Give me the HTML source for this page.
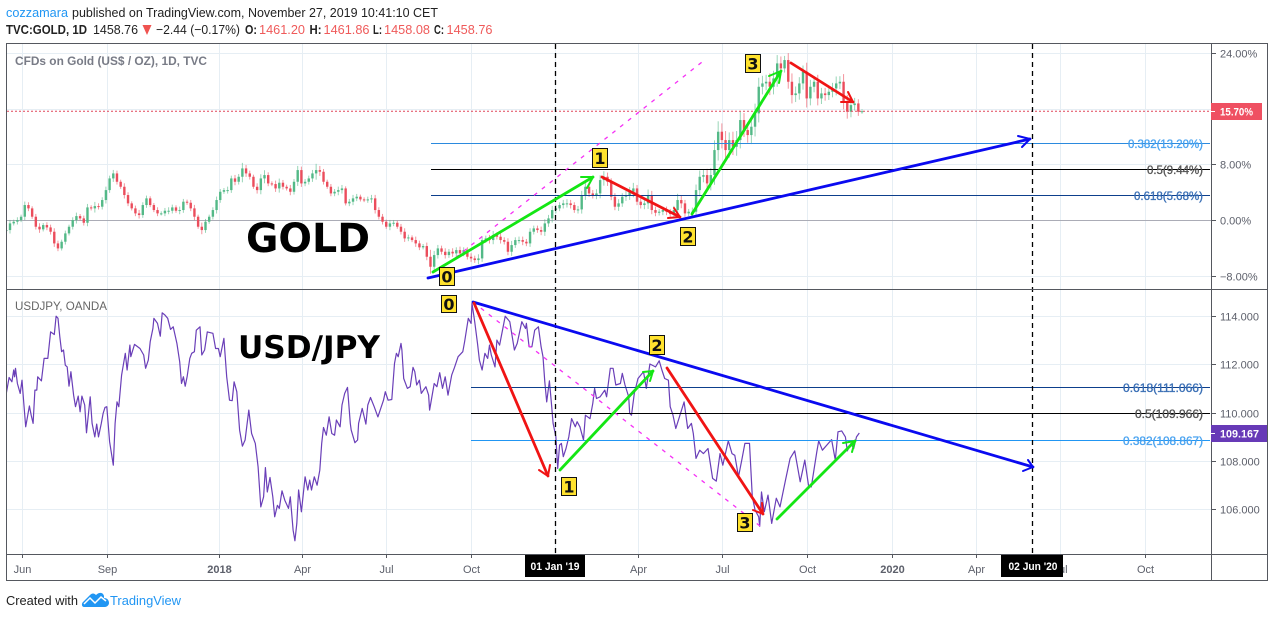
<!DOCTYPE html>
<html lang="en">
<head>
<meta charset="utf-8">
<title>GOLD vs USD/JPY</title>
<style>
html,body{margin:0;padding:0;background:#fff;width:1274px;height:618px;overflow:hidden}
svg{display:block;font-family:"Liberation Sans",sans-serif}
.ax{font-size:11px;fill:#5d606b}
.hd{font-size:13px;fill:#222}
.b{font-weight:bold}
.r{fill:#ef5a5a}
.lab{font-family:"DejaVu Sans",sans-serif;font-weight:bold;font-size:16px;fill:#111;text-anchor:middle}
.box{fill:#ffe22e;stroke:#111;stroke-width:1}
.fib{font-size:12px;text-anchor:end;stroke-width:.35}
</style>
</head>
<body>
<svg id="chart" width="1274" height="618" viewBox="0 0 1274 618" xmlns="http://www.w3.org/2000/svg">
  <defs>
    <clipPath id="clip-top"><rect x="7" y="44" width="1204" height="245"/></clipPath>
    <clipPath id="clip-bottom"><rect x="7" y="290" width="1204" height="264"/></clipPath>
  </defs>

  <g>
    <text class="hd" x="6" y="17" textLength="62" lengthAdjust="spacingAndGlyphs" style="fill:#2196f3">cozzamara</text>
    <text class="hd" x="72" y="17" textLength="366" lengthAdjust="spacingAndGlyphs">published on TradingView.com, November 27, 2019 10:41:10 CET</text>
    <text class="hd b" x="6" y="34" textLength="81" lengthAdjust="spacingAndGlyphs">TVC:GOLD, 1D</text>
    <text class="hd" x="93" y="34" textLength="45" lengthAdjust="spacingAndGlyphs">1458.76</text>
    <polygon points="142.500,25 151.500,25 147,35" fill="#ef5350"/>
    <text class="hd" x="156" y="34" textLength="84" lengthAdjust="spacingAndGlyphs">−2.44 (−0.17%)</text>
    <text class="hd b" x="245" y="34" textLength="12" lengthAdjust="spacingAndGlyphs">O:</text>
    <text class="hd r" x="259" y="34" textLength="46" lengthAdjust="spacingAndGlyphs">1461.20</text>
    <text class="hd b" x="309.500" y="34" textLength="12" lengthAdjust="spacingAndGlyphs">H:</text>
    <text class="hd r" x="323.500" y="34" textLength="46" lengthAdjust="spacingAndGlyphs">1461.86</text>
    <text class="hd b" x="373" y="34" textLength="9" lengthAdjust="spacingAndGlyphs">L:</text>
    <text class="hd r" x="384" y="34" textLength="46" lengthAdjust="spacingAndGlyphs">1458.08</text>
    <text class="hd b" x="434" y="34" textLength="10" lengthAdjust="spacingAndGlyphs">C:</text>
    <text class="hd r" x="446.500" y="34" textLength="46" lengthAdjust="spacingAndGlyphs">1458.76</text>
  </g>

  <g id="grid"></g>
  <g id="series-top" clip-path="url(#clip-top)"></g>
  <g id="series-bottom" clip-path="url(#clip-bottom)"></g>

  <line x1="7" y1="111.300" x2="1211" y2="111.300" stroke="#e0475a" stroke-width="1" stroke-dasharray="2 2"/>

  <g>
    <line x1="431" y1="143.500" x2="1210" y2="143.500" stroke="#2b8ade"/>
    <line x1="431" y1="169.500" x2="1210" y2="169.500" stroke="#000"/>
    <line x1="431" y1="195.500" x2="1210" y2="195.500" stroke="#0d3f8c"/>
    <text class="fib" x="1203" y="148" textLength="75" lengthAdjust="spacingAndGlyphs" fill="#4aa3f0" stroke="#4aa3f0">0.382(13.20%)</text>
    <text class="fib" x="1203" y="174" textLength="56" lengthAdjust="spacingAndGlyphs" fill="#555" stroke="#555">0.5(9.44%)</text>
    <text class="fib" x="1203" y="200" textLength="69" lengthAdjust="spacingAndGlyphs" fill="#3a6fb5" stroke="#3a6fb5">0.618(5.68%)</text>
  </g>
  <g>
    <line x1="471" y1="387.500" x2="1210" y2="387.500" stroke="#0d3f8c"/>
    <line x1="471" y1="413.500" x2="1210" y2="413.500" stroke="#000"/>
    <line x1="471" y1="440.500" x2="1210" y2="440.500" stroke="#2196f3"/>
    <text class="fib" x="1203" y="392" textLength="80" lengthAdjust="spacingAndGlyphs" fill="#3a6fb5" stroke="#3a6fb5">0.618(111.066)</text>
    <text class="fib" x="1203" y="418" textLength="68" lengthAdjust="spacingAndGlyphs" fill="#555" stroke="#555">0.5(109.966)</text>
    <text class="fib" x="1203" y="445" textLength="80" lengthAdjust="spacingAndGlyphs" fill="#4aa3f0" stroke="#4aa3f0">0.382(108.867)</text>
  </g>

  <line x1="555.500" y1="44" x2="555.500" y2="554" stroke="#000" stroke-width="1.300" stroke-dasharray="5 4"/>
  <line x1="1032.500" y1="44" x2="1032.500" y2="554" stroke="#000" stroke-width="1.300" stroke-dasharray="5 4"/>

  <line x1="440" y1="270" x2="702" y2="62" stroke="#f530f5" stroke-width="1.300" stroke-dasharray="4 6"/>
  <line x1="473" y1="302" x2="760" y2="526" stroke="#f530f5" stroke-width="1.300" stroke-dasharray="4 6"/>

  <g fill="none" stroke-linecap="round" stroke-linejoin="round">
    <g stroke="#0a0af0" stroke-width="2.800"><line x1="428" y1="278" x2="1030" y2="139"/><polyline stroke-width="2" points="1018,136 1030,139 1022,147"/></g>
    <g stroke="#14e614" stroke-width="2.800"><line x1="433" y1="272" x2="593" y2="177"/><polyline stroke-width="2" points="581,177 593,177 587,188"/></g>
    <g stroke="#f01414" stroke-width="2.800"><line x1="602" y1="177" x2="680" y2="217"/><polyline stroke-width="2" points="668,218 680,217 674,208"/></g>
    <g stroke="#14e614" stroke-width="2.800"><line x1="692" y1="214" x2="781" y2="71"/><polyline stroke-width="2" points="769,76 781,71 779,83"/></g>
    <g stroke="#f01414" stroke-width="2.800"><line x1="791" y1="63" x2="853" y2="102"/><polyline stroke-width="2" points="841,102 853,102 848,92"/></g>
  </g>
  <g fill="none" stroke-linecap="round" stroke-linejoin="round">
    <g stroke="#0a0af0" stroke-width="2.800"><line x1="473" y1="302" x2="1033" y2="467"/><polyline stroke-width="2" points="1028,460 1033,467 1023,471"/></g>
    <g stroke="#f01414" stroke-width="2.800"><line x1="474" y1="303" x2="548" y2="476"/><polyline stroke-width="2" points="539,470 548,476 550,465"/></g>
    <g stroke="#14e614" stroke-width="2.800"><line x1="560" y1="470" x2="653" y2="371"/><polyline stroke-width="2" points="643,372 653,371 650,381"/></g>
    <g stroke="#f01414" stroke-width="2.800"><line x1="667" y1="368" x2="763" y2="514"/><polyline stroke-width="2" points="753,510 763,514 762,503"/></g>
    <g stroke="#14e614" stroke-width="2.800"><line x1="777" y1="519" x2="855" y2="441"/><polyline stroke-width="2" points="843,443 855,441 852,452"/></g>
  </g>

  <g>
    <g><rect class="box" x="439.500" y="267.500" width="15" height="18"/><text class="lab" x="447" y="282.500">0</text></g>
    <g><rect class="box" x="592.500" y="148.500" width="15" height="19"/><text class="lab" x="600" y="164">1</text></g>
    <g><rect class="box" x="680.500" y="227.500" width="15" height="18"/><text class="lab" x="688" y="242.500">2</text></g>
    <g><rect class="box" x="745.500" y="54.500" width="15" height="18"/><text class="lab" x="753" y="69.500">3</text></g>
    <g><rect class="box" x="441.500" y="295.500" width="15" height="17"/><text class="lab" x="449" y="310">0</text></g>
    <g><rect class="box" x="561.500" y="477.500" width="15" height="18"/><text class="lab" x="569" y="492.500">1</text></g>
    <g><rect class="box" x="649.500" y="335.500" width="15" height="19"/><text class="lab" x="657" y="351">2</text></g>
    <g><rect class="box" x="737.500" y="513.500" width="15" height="18"/><text class="lab" x="745" y="528.500">3</text></g>
  </g>

  <text x="246" y="252" font-family="'DejaVu Sans',sans-serif" font-weight="bold" font-size="40" textLength="124" lengthAdjust="spacingAndGlyphs" fill="#000">GOLD</text>
  <text x="238" y="358" font-family="'DejaVu Sans',sans-serif" font-weight="bold" font-size="31" textLength="142" lengthAdjust="spacingAndGlyphs" fill="#000">USD/JPY</text>

  <text x="15" y="65" font-size="12" font-weight="bold" textLength="192" lengthAdjust="spacingAndGlyphs" fill="#787b86">CFDs on Gold (US$ / OZ), 1D, TVC</text>
  <text x="15" y="310" font-size="12" textLength="92" lengthAdjust="spacingAndGlyphs" fill="#666">USDJPY, OANDA</text>

  <g fill="none" stroke="#55585f" stroke-width="1">
    <rect x="6.500" y="43.500" width="1261" height="537"/>
    <line x1="6.500" y1="289.500" x2="1267.500" y2="289.500"/>
    <line x1="6.500" y1="554.500" x2="1267.500" y2="554.500"/>
    <line x1="1211.500" y1="43.500" x2="1211.500" y2="580.500"/>
  </g>

  <g id="axes"></g>

  <g>
    <rect x="1211" y="103" width="51" height="17" fill="#ef5062"/>
    <line x1="1211" y1="111.500" x2="1215" y2="111.500" stroke="#fff"/>
    <text x="1220" y="115.500" font-size="11" font-weight="bold" textLength="33" lengthAdjust="spacingAndGlyphs" fill="#fff">15.70%</text>
  </g>
  <g>
    <rect x="1211" y="425" width="56" height="17" fill="#673ab7"/>
    <line x1="1211" y1="433.500" x2="1215" y2="433.500" stroke="#fff"/>
    <text x="1220" y="437.500" font-size="11" font-weight="bold" textLength="39" lengthAdjust="spacingAndGlyphs" fill="#fff">109.167</text>
  </g>
  <g>
    <rect x="525" y="555" width="60" height="22" fill="#000"/>
    <text x="555" y="570" font-size="11" font-weight="bold" text-anchor="middle" textLength="49" lengthAdjust="spacingAndGlyphs" fill="#fff">01 Jan '19</text>
  </g>
  <g>
    <rect x="1001" y="555" width="62" height="22" fill="#000"/>
    <text x="1033" y="570" font-size="11" font-weight="bold" text-anchor="middle" textLength="49" lengthAdjust="spacingAndGlyphs" fill="#fff">02 Jun '20</text>
  </g>

  <g>
    <text x="6" y="605" font-size="13" textLength="72" lengthAdjust="spacingAndGlyphs" fill="#222">Created with</text>
    <g>
      <path d="M84 607c-2 0-3-3-1-5l7-7c2-2 4-2 6 0 3-3 7-3 8 1l0 2c3 0 5 2 5 5 0 2-2 4-4 4z" fill="#2196f3"/>
      <polyline points="84,604 90,598 95,603 101,597 106,601" fill="none" stroke="#fff" stroke-width="1.500"/>
    </g>
    <text x="110" y="605" font-size="13" textLength="71" lengthAdjust="spacingAndGlyphs" fill="#2196f3">TradingView</text>
  </g>
</svg>

<script>
var goldStartDay = -17;
var goldDayStep = 4;
var goldClose = [
-1.39,-0.43,-0.19,0.05,0.53,2.21,1.73,0.53,-0.91,-1.29,-0.67,-1.01,-1.63,-3.31,-4.03,-3.07,-1.87,-0.91,0.05,0.62,
0.29,-0.34,1.87,1.73,2.06,1.97,2.93,4.36,6.04,6.76,5.56,4.84,3.65,2.45,1.73,1.01,0.77,2.21,3.17,2.21,
1.49,1.01,1.01,1.39,1.39,1.87,1.39,1.49,2.69,2.54,1.73,0.53,-0.91,-1.39,-0.19,0.53,1.49,2.93,4.12,4.36,
4.36,6.04,5.56,6.28,7.48,6.76,6.28,4.84,4.36,6.04,6.52,5.32,5.23,4.60,5.42,4.84,4.60,4.12,5.56,7.24,
5.32,5.56,6.04,6.76,7.24,7.00,5.56,4.84,3.88,4.12,4.36,4.60,2.45,2.69,3.17,3.41,3.02,2.93,3.02,3.17,
1.49,0.53,-0.19,-0.91,-0.43,-0.34,-0.91,-1.63,-2.59,-2.45,-2.83,-3.31,-3.88,-3.69,-5.23,-6.67,
-4.99,-4.03,-4.51,-4.99,-4.51,-4.75,-4.27,-4.75,-4.27,-5.23,-5.47,-5.71,-5.47,-2.83,-2.59,-2.83,-2.11,-2.35,-2.83,-3.07,
-4.51,-3.55,-2.83,-2.83,-3.07,-3.31,-1.63,-1.15,-1.39,-1.63,-0.43,0.29,1.49,1.73,2.21,2.45,2.45,2.21,1.49,1.58,
3.65,4.84,3.88,3.65,3.88,5.80,6.28,5.56,3.41,1.97,2.45,3.41,3.65,4.12,4.60,2.69,2.21,2.45,3.65,1.49,
1.10,1.25,1.49,1.25,0.91,1.49,2.93,2.45,1.01,1.25,1.25,4.36,6.28,6.52,5.32,6.52,10.12,12.76,11.56,10.12,
11.56,10.60,11.56,14.44,13.00,12.28,13.48,15.40,19.23,19.71,19.95,19.23,20.43,22.59,21.87,23.07,19.95,18.03,18.27,19.71,
21.39,17.55,19.23,19.95,17.55,18.27,18.03,18.51,18.99,19.71,19.95,17.07,15.64,16.59,16.83,15.64,15.70
];
var goldWick = [
0.4,0.5,0.3,0.4,0.3,0.5,0.4,0.3,0.4,0.5,0.3,0.4,0.4,0.5,0.4,0.3,0.4,0.3,0.4,0.5,
0.3,0.4,0.5,0.3,0.6,0.4,0.4,0.5,0.4,0.5,0.4,0.3,0.5,0.4,0.3,0.4,0.5,0.4,0.4,0.3,
0.3,0.4,0.3,0.4,0.5,0.4,0.3,0.5,0.4,0.3,0.4,0.5,0.3,0.6,0.4,0.3,0.4,0.5,0.4,0.3,
0.5,0.4,0.5,0.4,0.8,0.5,0.4,0.3,0.5,0.6,0.7,0.4,0.3,0.5,0.6,0.4,0.3,0.5,0.4,0.6,
0.5,0.4,0.4,0.5,0.9,0.6,0.4,0.3,0.4,0.4,0.5,0.5,0.3,0.4,0.5,0.4,0.3,0.3,0.4,0.5,
0.5,0.4,0.4,0.3,0.5,0.4,0.3,0.4,0.5,0.4,0.3,0.5,0.4,0.3,0.5,1.0,
0.6,0.5,0.4,0.5,0.4,0.5,0.4,0.5,0.4,0.4,0.5,0.4,0.6,0.5,0.4,0.5,0.6,0.4,0.5,0.4,
0.5,0.6,0.4,0.5,0.5,0.4,0.5,0.4,0.4,0.5,0.6,0.5,0.6,0.5,0.4,0.5,0.6,0.5,0.4,0.5,
0.6,0.7,0.5,0.5,0.6,0.7,0.8,0.6,0.5,0.5,0.6,0.5,0.6,0.7,0.8,0.5,0.5,0.6,0.8,0.6,
0.5,0.4,0.5,0.5,0.4,0.6,0.9,0.7,0.5,0.4,0.6,0.8,0.9,0.8,0.9,1.0,1.4,1.5,1.2,1.3,
1.1,1.2,1.3,1.2,1.0,1.1,1.3,1.4,1.3,1.1,1.0,1.2,1.1,1.2,1.0,0.6,1.0,1.2,1.0,0.9,
0.9,1.3,1.0,0.8,1.0,0.8,0.8,0.7,0.8,1.0,0.8,1.1,1.0,0.8,0.8,0.6,0.3
];
var usdjpyDays = [
-17,-14,-11,-9,-8,-7,-5,-2,0,2,4,8,10,12,14,16,17,21,24,28,31,35,37,39,41,43,45,47,49,51,53,56,58,61,63,65,68,70,74,76,79,81,83,86,88,90,92,95,99,101,103,105,108,112,114,117,118,122,128,132,134,137,139,142,143,147,150,152,155,158,161,164,168,171,173,175,177,179,182,184,187,189,193,195,198,201,207,210,213,215,219,222,225,228,230,233,236,239,242,246,249,253,256,259,262,264,266,269,272,274,277,279,282,285,289,291,294,296,298,300,303,307,310,312,314,317,320,323,325,327,330,333,336,339,341,345,347,350,353,356,357,361,364,365,369,373,375,378,382,386,392,394,397,401,404,406,408,411,412,414,418,421,424,426,428,431,433,438,441,
442,447,450,453,456,459,462,466,469,473,478,480,484,487,488,491,494,496,499,502,505,507,509,513,515,518,524,529,534,537,542,546,547,550,553,556,560,563,565,567,569,572,574,576,579,581,583,585,587,590,593,596,600,602,605,609,611,616,619,621,623,627,632,634,638,641,644,649,651,654,658,659,661,664,668,674,677,681,687,691,694,697,701,703,706,709,713,718,722,726,728,731,735,739,744,749,753,757,760,766,770,773,777,781,784,789,792,795,799,800,802,805,809,813,818,822,828,833,838,844,849,853,856,862,864,868,878,882,885,889,893,895,899,902,905,908
];
var usdjpyValues = [
110.81,111.47,111.29,111.78,111.50,111.85,111.22,110.81,111.36,110.40,109.43,110.29,109.91,109.57,110.95,110.95,111.50,111.33,112.26,112.26,113.36,113.25,114.01,113.92,113.16,112.54,112.61,111.98,111.91,111.11,111.71,110.74,110.26,110.70,110.05,110.70,110.33,109.18,110.67,109.57,109.01,109.54,109.01,109.57,109.98,110.23,110.26,108.81,107.84,109.57,110.46,110.26,111.57,112.47,111.78,112.81,112.33,112.84,112.67,112.40,111.85,112.19,112.95,113.50,113.92,113.71,113.18,114.15,114.06,113.92,113.46,113.57,112.88,112.12,111.22,111.50,111.11,111.50,112.26,112.47,112.54,113.43,113.57,112.40,112.61,113.36,113.30,112.67,112.67,112.33,113.09,111.50,110.53,110.51,111.29,110.88,109.29,108.63,108.88,110.12,109.15,108.74,107.77,106.11,106.53,107.74,106.73,107.33,106.53,105.70,106.18,106.05,106.78,106.39,106.05,106.53,105.15,104.71,105.42,106.81,105.91,107.36,106.81,107.22,106.81,107.36,107.01,107.63,108.74,109.40,109.08,109.84,109.15,109.08,109.71,109.43,110.33,110.81,111.06,109.57,109.29,108.77,108.88,109.57,110.19,109.54,110.33,110.64,110.26,109.84,110.53,110.88,110.53,110.56,112.05,112.47,112.33,112.88,112.61,111.43,111.02,111.09,111.89,111.71,111.16,111.36,110.81,111.09,110.74,
110.12,111.22,111.09,111.67,111.02,111.50,110.74,111.57,111.89,112.33,112.54,112.95,113.92,113.71,114.54,113.78,112.88,112.19,111.78,112.47,112.26,112.81,112.40,111.91,113.02,112.81,114.01,113.78,112.61,112.88,113.78,113.50,113.71,112.74,112.74,113.43,113.57,112.74,112.33,111.29,110.46,111.33,110.46,109.57,109.01,107.70,108.67,108.74,108.19,108.53,109.01,109.77,109.43,109.64,109.43,108.88,109.91,109.77,110.40,111.02,110.60,110.67,110.95,110.67,111.85,111.85,111.16,111.22,111.64,111.16,110.67,109.98,109.91,110.81,111.43,111.71,111.02,112.03,111.91,112.16,111.78,111.43,111.36,110.26,109.91,109.36,109.84,110.46,109.36,109.57,109.15,108.12,108.46,108.32,108.53,107.29,107.18,108.32,107.84,108.85,108.32,108.25,107.36,108.12,108.74,108.74,106.53,105.98,105.70,105.31,106.73,105.91,106.60,105.43,106.47,106.11,107.22,108.12,108.43,107.15,108.05,107.01,106.94,108.39,108.85,108.46,108.90,108.05,109.22,109.26,109.01,108.43,108.74,108.53,109.01,109.17
];
var timeTickDays = [0,93,214,304,395,487,579,669,760,852,944,1035,1126,1218];
var timeTickLabels = ["Jun","Sep","2018","Apr","Jul","Oct","","Apr","Jul","Oct","2020","Apr","Jul","Oct"];
var goldTicks = [24,16,8,0,-8];
var goldTickLabels = ["24.00%","","8.00%","0.00%","−8.00%"];
var usdjpyTicks = [114,112,110,108,106];
var usdjpyTickLabels = ["114.000","112.000","110.000","108.000","106.000"];

function xDay(d){ return 22 + d / 1.0845; }
function yGold(p){ return 220.4 - p * 6.95; }
function yUsd(v){ return 316.4 + (114 - v) * 24.15; }

var NS = 'http://www.w3.org/2000/svg';
function mk(tag, parent){
  var e = document.createElementNS(NS, tag);
  parent.appendChild(e);
  return e;
}
function crisp(v){ return Math.floor(v) + 0.5; }

var gridG = document.getElementById('grid');
var axesG = document.getElementById('axes');

timeTickDays.forEach(function(d, i){
  var x = crisp(xDay(d));
  var g = mk('line', gridG);
  
  
  g.setAttribute('x1', x); g.setAttribute('x2', x);
  g.setAttribute('y1', 44); g.setAttribute('y2', 554);
  g.setAttribute('stroke', '#e6eef4');
  var t = mk('line', axesG);
  
  
  t.setAttribute('x1', x); t.setAttribute('x2', x);
  t.setAttribute('y1', 554); t.setAttribute('y2', 558);
  t.setAttribute('stroke', '#55585f');
  if (timeTickLabels[i]) {
    var l = mk('text', axesG);
    
    
    l.setAttribute('class', 'ax');
    l.setAttribute('x', x);
    l.setAttribute('y', 573);
    l.setAttribute('text-anchor', 'middle');
    if (/^20/.test(timeTickLabels[i])) l.setAttribute('font-weight', 'bold');
    l.textContent = timeTickLabels[i];
  }
});

function hTicks(values, labels, yFn, nameBase){
  values.forEach(function(v, i){
    var y = crisp(yFn(v));
    var g = mk('line', gridG);
    
    
    g.setAttribute('x1', 7); g.setAttribute('x2', 1211);
    g.setAttribute('y1', y); g.setAttribute('y2', y);
    g.setAttribute('stroke', (nameBase === 'gold' && v === 0) ? '#abacb6' : '#e6eef4');
    if (!labels[i]) return;
    var t = mk('line', axesG);
    
    
    t.setAttribute('x1', 1211); t.setAttribute('x2', 1216);
    t.setAttribute('y1', y); t.setAttribute('y2', y);
    t.setAttribute('stroke', '#55585f');
    var l = mk('text', axesG);
    
    
    l.setAttribute('class', 'ax');
    l.setAttribute('x', 1220);
    l.setAttribute('y', y + 4);
    l.textContent = labels[i];
  });
}
hTicks(goldTicks, goldTickLabels, yGold, 'gold');
hTicks(usdjpyTicks, usdjpyTickLabels, yUsd, 'usdjpy');

var topG = document.getElementById('series-top');
goldClose.forEach(function(c, i){
  var o = i ? goldClose[i - 1] : c;
  var w = goldWick[i] === undefined ? 0.4 : goldWick[i];
  var x = xDay(goldStartDay + i * goldDayStep);
  var col = c >= o ? '#53b987' : '#eb4d5c';
  var hi = Math.max(o, c) + w, lo = Math.min(o, c) - w;
  var g = mk('g', topG);
  
  
  var wick = mk('line', g);
  wick.setAttribute('x1', x); wick.setAttribute('x2', x);
  wick.setAttribute('y1', yGold(hi)); wick.setAttribute('y2', yGold(lo));
  wick.setAttribute('stroke', col);
  wick.setAttribute('stroke-opacity', 0.6);
  wick.setAttribute('stroke-width', 1);
  var body = mk('rect', g);
  var yT = yGold(Math.max(o, c)), yB = yGold(Math.min(o, c));
  body.setAttribute('x', x - 1.2);
  body.setAttribute('y', yT);
  body.setAttribute('width', 2.4);
  body.setAttribute('height', Math.max(yB - yT, 1));
  body.setAttribute('fill', col);
});

var botG = document.getElementById('series-bottom');
var usdLine = mk('polyline', botG);


usdLine.setAttribute('fill', 'none');
usdLine.setAttribute('stroke', '#6a3fb8');
usdLine.setAttribute('stroke-width', 1.2);
usdLine.setAttribute('stroke-linejoin', 'round');
usdLine.setAttribute('points', usdjpyValues.map(function(v, i){
  return xDay(usdjpyDays[i]).toFixed(1) + ',' + yUsd(v).toFixed(1);
}).join(' '));
</script>
</body>
</html>
